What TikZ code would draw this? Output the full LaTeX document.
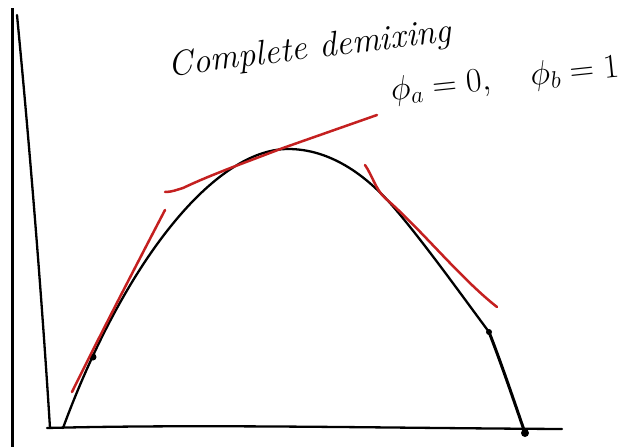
\RequirePackage{fix-cm}
\documentclass[tikz,border=0pt]{standalone}
\usepackage{fontspec}
\usepackage{tikz}
\usetikzlibrary{positioning}
\definecolor{penred}{RGB}{196,32,32}

\begin{document}
\begin{tikzpicture}[
  x=1pt, y=-1pt,
  ink/.style={line width=2.3pt, line cap=round, line join=round, black},
  tang/.style={line width=2.5pt, line cap=round, line join=round, penred},
  frame/.style={line width=3pt, black},
  lbl/.style={inner sep=0pt,
              font=\itshape\fontsize{35}{42}\selectfont\addfontfeature{LetterSpace=8}},
  mathlbl/.style={inner sep=0pt, font=\fontsize{34}{40}\selectfont}
]
\useasboundingbox (0,0) rectangle (629,447);

% left frame edge
\draw[frame] (12,8) -- (12,447);

% axes
\draw[ink] (17,15) .. controls (30,150) and (42,300) .. (50,428);
\draw[ink] (47,428) .. controls (200,424) and (380,428) .. (562,429);

% coexistence curve
\draw[ink] (63,428) .. controls (125,260) and (215,149) .. (288,149)
  .. controls (330,149) and (365,175) .. (390,203)
  .. controls (420,237) and (460,293) .. (489,332);
\draw[ink, line width=3pt] (489,332) .. controls (500,360) and (512,395) .. (525,433);
\fill (93,357) circle (3.5pt);
\fill (489,332) circle (3pt);
\fill (525,433) circle (4pt);

% tangent lines
\draw[tang] (72,392) .. controls (100,335) and (140,258) .. (165,210);
\draw[tang] (165,192) .. controls (172,192) and (176,190) .. (183,188)
  .. controls (200,180) and (215,174) .. (233,167) -- (283,148) -- (377,115);
\draw[tang] (365,165) .. controls (372,175) and (376,190) .. (385,198)
  .. controls (420,228) and (460,278) .. (497,307);

% labels
\node[lbl, rotate=7] (title) at (310,50) {Complete demixing};
\node[mathlbl, rotate=6] (phases) at (505,80) {$\phi_a=0,\quad \phi_b=1$};
\end{tikzpicture}
\end{document}
